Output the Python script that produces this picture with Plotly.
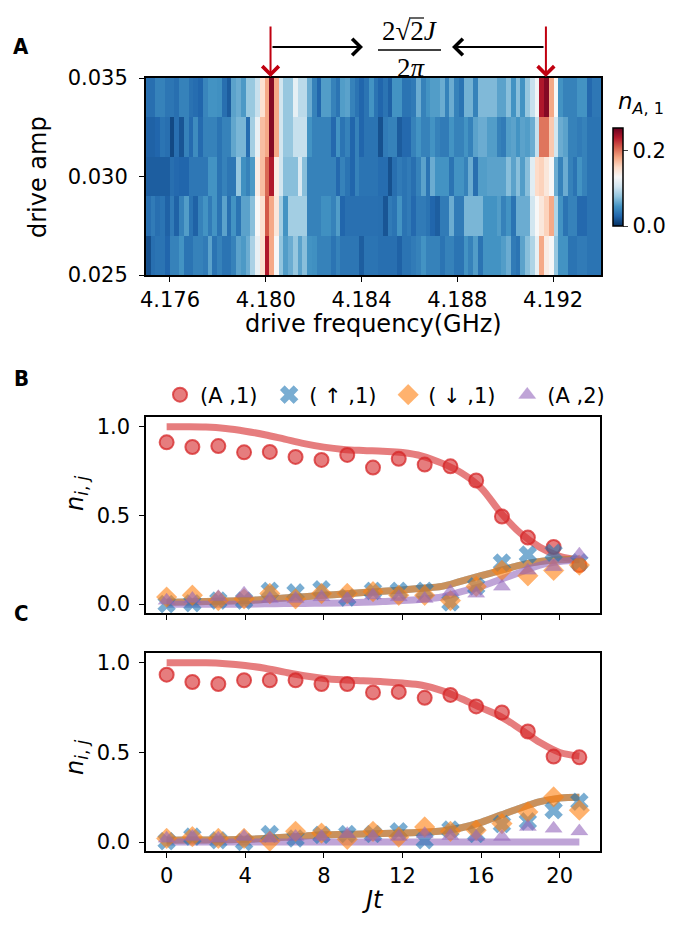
import plotly.graph_objects as go

# page body has an 8px margin: the figure is sized to fit inside the 691x925 window
OFF = 8
W, H = 691 - 2 * OFF, 925 - 2 * OFF
def px(x): return (x - OFF) / W
def py(y): return 1 - (y - OFF) / H

# ---------------- Panel A data: n_{A,1} vs drive frequency / amplitude ----------------
amp_centers = [0.026, 0.028, 0.030, 0.032, 0.034]
freq_first = 4.1751   # centre of first frequency column (GHz)
freq_step = 0.000198  # GHz per column

amp_034 = [0.031,0.031,0.042,0.042,0.035,0.035,0.031,0.042,0.042,0.033,0.030,0.026,0.044,0.052,0.052,0.050,0.031,0.021,0.060,0.065,0.055,0.081,0.081,
           0.100,
           0.150,0.180,0.250,0.180,0.105,0.080,0.080,0.118,0.095,0.095,0.065,0.042,0.026,0.057,0.057,0.042,0.034,0.057,0.060,0.042,0.034,0.026,0.034,0.052,0.034,
           0.026,0.034,0.024,0.052,0.052,0.034,0.034,0.038,0.065,0.042,0.052,0.057,0.057,0.065,0.042,0.065,0.042,0.034,0.068,0.068,0.042,0.072,0.072,0.072,0.072,
           0.060,0.060,0.075,0.052,0.075,0.052,0.080,0.100,0.125,0.235,0.250,0.180,0.130,0.052,0.042,0.042,0.042,0.052,0.052,0.028,0.036,0.036]
amp_032 = [0.024,0.024,0.026,0.034,0.031,0.012,0.032,0.018,0.042,0.029,0.048,0.029,0.042,0.042,0.042,0.034,0.042,0.042,0.062,0.070,0.070,0.030,0.085,
           0.120,
           0.170,0.180,0.250,0.180,0.105,0.080,0.080,0.100,0.100,0.100,0.052,0.042,0.042,0.042,0.042,0.028,0.052,0.034,0.042,0.026,0.042,0.026,0.034,0.034,0.034,
           0.016,0.038,0.042,0.042,0.021,0.028,0.028,0.042,0.052,0.042,0.042,0.052,0.042,0.038,0.038,0.052,0.042,0.042,0.052,0.042,0.060,0.065,0.065,0.057,0.057,
           0.042,0.038,0.057,0.060,0.052,0.060,0.057,0.065,0.100,0.200,0.200,0.165,0.105,0.065,0.060,0.042,0.042,0.038,0.042,0.034,0.034,0.034]
amp_030 = [0.022,0.022,0.022,0.022,0.022,0.031,0.028,0.026,0.026,0.036,0.036,0.036,0.036,0.052,0.052,0.034,0.042,0.035,0.035,0.080,0.050,0.042,0.055,
           0.140,0.170,0.205,0.235,0.140,0.105,0.075,0.075,0.075,0.110,0.075,0.042,0.042,0.042,0.042,0.042,0.042,0.028,0.042,0.034,0.026,0.042,0.034,0.034,0.034,0.034,
           0.030,0.030,0.016,0.031,0.038,0.034,0.038,0.031,0.042,0.060,0.034,0.065,0.052,0.052,0.052,0.034,0.052,0.052,0.042,0.065,0.031,0.057,0.057,0.060,0.060,
           0.060,0.060,0.075,0.060,0.075,0.057,0.075,0.115,0.155,0.160,0.145,0.130,0.065,0.042,0.065,0.042,0.034,0.052,0.042,0.034,0.034,0.034]
amp_028 = [0.031,0.038,0.031,0.034,0.024,0.038,0.024,0.042,0.057,0.034,0.024,0.042,0.052,0.038,0.052,0.034,0.060,0.031,0.052,0.034,0.060,0.060,0.075,
           0.130,0.150,0.210,0.180,0.145,0.085,0.052,0.085,0.085,0.085,0.085,0.042,0.042,0.042,0.050,0.050,0.042,0.057,0.026,0.032,0.032,0.032,0.032,0.032,0.032,0.032,
           0.031,0.018,0.038,0.034,0.052,0.034,0.038,0.028,0.038,0.038,0.034,0.026,0.022,0.038,0.038,0.065,0.038,0.038,0.070,0.070,0.070,0.070,0.052,0.052,0.052,
           0.057,0.042,0.052,0.034,0.065,0.065,0.065,0.105,0.130,0.145,0.160,0.180,0.090,0.052,0.034,0.042,0.042,0.028,0.028,0.034,0.034,0.034]
amp_026 = [0.015,0.031,0.034,0.034,0.026,0.042,0.042,0.052,0.034,0.034,0.042,0.042,0.038,0.060,0.034,0.042,0.034,0.034,0.042,0.060,0.055,0.065,0.088,
           0.120,0.150,0.235,0.180,0.130,0.078,0.057,0.065,0.080,0.060,0.075,0.052,0.050,0.042,0.042,0.042,0.034,0.042,0.035,0.035,0.035,0.035,0.022,0.034,0.034,0.034,
           0.031,0.031,0.031,0.031,0.024,0.034,0.034,0.038,0.042,0.052,0.042,0.042,0.042,0.034,0.042,0.042,0.034,0.034,0.052,0.042,0.057,0.034,0.052,0.052,0.052,
           0.052,0.057,0.065,0.038,0.034,0.060,0.075,0.090,0.120,0.180,0.140,0.130,0.080,0.052,0.052,0.034,0.034,0.038,0.038,0.034,0.034,0.034]
heat_z = [amp_026, amp_028, amp_030, amp_032, amp_034]

freq_ticks = [4.176, 4.180, 4.184, 4.188, 4.192]
freq_tick_text = ["4.176", "4.180", "4.184", "4.188", "4.192"]
amp_ticks = [0.025, 0.030, 0.035]
amp_tick_text = ["0.025", "0.030", "0.035"]
peak_freqs = [4.1802, 4.1917]

# ---------------- Panels B / C data ----------------
Jt_meas = [0, 1.31, 2.63, 3.94, 5.25, 6.56, 7.88, 9.19, 10.5, 11.81, 13.13, 14.44, 15.75, 17.06, 18.38, 19.69, 21.0]
Jt_theory = [0, 1, 2, 3, 4, 5, 6, 7, 8, 9, 10, 11, 12, 13, 14, 15, 16, 17, 18, 19, 20, 21]

B_A1 = [0.912, 0.886, 0.891, 0.856, 0.858, 0.830, 0.813, 0.841, 0.770, 0.819, 0.787, 0.777, 0.697, 0.494, 0.375, 0.322, 0.220]
B_up1 = [0.00, 0.005, 0.02, 0.02, 0.075, 0.066, 0.084, 0.037, 0.075, 0.075, 0.075, 0.01, 0.10, 0.234, 0.28, 0.29, 0.236]
B_dn1 = [0.04, 0.05, 0.02, 0.03, 0.06, 0.03, 0.06, 0.06, 0.07, 0.05, 0.05, 0.02, 0.10, 0.19, 0.16, 0.19, 0.22]
B_A2 = [0.02, 0.03, 0.04, 0.06, 0.03, 0.03, 0.04, 0.03, 0.05, 0.04, 0.03, 0.07, 0.06, 0.10, 0.19, 0.21, 0.28]

B_A1_th = [1.0, 1.0, 0.998, 0.99, 0.975, 0.955, 0.93, 0.905, 0.885, 0.872, 0.866, 0.862, 0.855, 0.835, 0.795, 0.74, 0.655, 0.515, 0.40, 0.32, 0.27, 0.25]
B_up1_th = [0.01, 0.012, 0.015, 0.017, 0.02, 0.027, 0.035, 0.042, 0.05, 0.057, 0.065, 0.072, 0.08, 0.09, 0.10, 0.13, 0.16, 0.19, 0.22, 0.24, 0.25, 0.255]
B_dn1_th = [0.01, 0.012, 0.015, 0.017, 0.02, 0.027, 0.035, 0.042, 0.05, 0.057, 0.065, 0.072, 0.08, 0.09, 0.10, 0.13, 0.16, 0.19, 0.22, 0.24, 0.25, 0.255]
B_A2_th = [0.0, 0.0, 0.0, 0.0, 0.0, 0.002, 0.003, 0.004, 0.005, 0.007, 0.01, 0.015, 0.02, 0.028, 0.04, 0.07, 0.10, 0.14, 0.18, 0.22, 0.24, 0.25]

C_A1 = [0.934, 0.893, 0.882, 0.903, 0.903, 0.903, 0.882, 0.882, 0.835, 0.838, 0.805, 0.821, 0.757, 0.723, 0.617, 0.477, 0.473]
C_up1 = [0.005, 0.03, 0.01, 0.0, 0.045, 0.02, 0.04, 0.045, 0.045, 0.06, 0.01, 0.07, 0.045, 0.10, 0.115, 0.178, 0.225]
C_dn1 = [0.02, 0.03, 0.02, 0.02, 0.005, 0.06, 0.05, 0.015, 0.06, 0.028, 0.084, 0.06, 0.066, 0.103, 0.168, 0.252, 0.178]
C_A2 = [0.02, 0.03, 0.02, 0.03, 0.02, 0.03, 0.03, 0.045, 0.03, 0.03, 0.045, 0.035, 0.03, 0.03, 0.085, 0.075, 0.06]

C_A1_th = [1.0, 1.0, 1.0, 0.995, 0.985, 0.97, 0.948, 0.928, 0.913, 0.905, 0.90, 0.895, 0.887, 0.875, 0.845, 0.80, 0.75, 0.70, 0.63, 0.555, 0.50, 0.48]
C_up1_th = [0.01, 0.011, 0.012, 0.013, 0.015, 0.02, 0.027, 0.033, 0.04, 0.043, 0.045, 0.048, 0.05, 0.055, 0.062, 0.08, 0.11, 0.15, 0.19, 0.225, 0.245, 0.25]
C_dn1_th = [0.01, 0.011, 0.012, 0.013, 0.015, 0.02, 0.027, 0.033, 0.04, 0.043, 0.045, 0.048, 0.05, 0.055, 0.062, 0.08, 0.11, 0.15, 0.19, 0.225, 0.245, 0.25]
C_A2_th = [0.0] * 22

series_names = ["(A ,1)", "( \u2191 ,1)", "( \u2193 ,1)", "(A ,2)"]

# ---------------- styles ----------------
FONT = "DejaVu Sans"
RED, BLUE, ORANGE, PURPLE = (214, 39, 40), (31, 119, 180), (255, 127, 14), (148, 103, 189)
def rgba(c, a): return f"rgba({c[0]},{c[1]},{c[2]},{a})"

rdbu_r = [[0.0, "#053061"], [0.1, "#2166ac"], [0.2, "#4393c3"], [0.3, "#92c5de"],
          [0.4, "#d1e5f0"], [0.5, "#f7f7f7"], [0.6, "#fddbc7"], [0.7, "#f4a582"],
          [0.8, "#d6604d"], [0.9, "#b2182b"], [1.0, "#67001f"]]

fig = go.Figure()

fig.add_trace(go.Heatmap(
    z=heat_z, x0=freq_first, dx=freq_step, y=amp_centers,
    colorscale=rdbu_r, zmin=0, zmax=0.26, xaxis="x", yaxis="y",
    colorbar=dict(x=px(613), xanchor="left", y=py(177), yanchor="middle", xpad=0, ypad=0,
                  len=98 / H, lenmode="fraction", thickness=10, thicknessmode="pixels",
                  outlinewidth=1.5, outlinecolor="black",
                  tickvals=[0, 0.2], ticktext=["0.0", "0.2"], ticks="outside", ticklen=5,
                  tickwidth=1.2, tickfont=dict(family=FONT, size=21, color="black")),
))

markers = [("circle", RED, 14), ("x", BLUE, 16), ("diamond", ORANGE, 16), ("triangle-up", PURPLE, 15)]
legend_pad = ["\u00a0", "\u00a0", "\u00a0", ""]

def add_panel(xa, ya, meas, theory, show_legend):
    for th, (sym, col, sz) in zip(theory, markers):
        fig.add_trace(go.Scatter(x=Jt_theory, y=th, mode="lines", line=dict(color=rgba(col, 0.6), width=7, shape="spline"),
                                 xaxis=xa, yaxis=ya, showlegend=False, hoverinfo="skip"))
    for name, pad, ms, (sym, col, sz) in zip(series_names, legend_pad, meas, markers):
        fig.add_trace(go.Scatter(x=Jt_meas, y=ms, mode="markers", name=name + pad,
                                 marker=dict(symbol=sym, size=sz, color=rgba(col, 0.6),
                                             line=dict(color=rgba(col, 0.75 if sym == "circle" else 0.3),
                                                       width=2 if sym == "circle" else 0.5)),
                                 xaxis=xa, yaxis=ya, showlegend=show_legend))

add_panel("x2", "y2", [B_A1, B_up1, B_dn1, B_A2], [B_A1_th, B_up1_th, B_dn1_th, B_A2_th], True)
add_panel("x3", "y3", [C_A1, C_up1, C_dn1, C_A2], [C_A1_th, C_up1_th, C_dn1_th, C_A2_th], False)

def axis_common(lw=1.5, **extra):
    d = dict(showline=True, mirror=True, linecolor="black", linewidth=lw, ticks="outside",
             ticklen=5, tickwidth=1.3, tickcolor="black", showgrid=False, zeroline=False,
             automargin=False, tickfont=dict(family=FONT, size=21, color="black"))
    d.update(extra)
    return d

Jt_ticks = [0, 4, 8, 12, 16, 20]
n_ticks = [0.0, 0.5, 1.0]
n_tick_text = ["0.0", "0.5", "1.0"]

fig.update_layout(
    width=W, height=H, margin=dict(l=0, r=0, t=0, b=0),
    paper_bgcolor="white", plot_bgcolor="white",
    font=dict(family=FONT, color="black"),
    xaxis=dict(domain=[px(146), px(601)], range=[4.175, 4.194], anchor="y",
               tickvals=freq_ticks, ticktext=freq_tick_text, **axis_common(2)),
    yaxis=dict(domain=[py(275), py(78)], range=[0.025, 0.035], anchor="x",
               tickvals=amp_ticks, ticktext=amp_tick_text, **axis_common(2, ticklabelstandoff=7)),
    xaxis2=dict(domain=[px(146), px(600)], range=[-1.05, 22.05], anchor="y2",
                tickvals=Jt_ticks, showticklabels=False, **axis_common()),
    yaxis2=dict(domain=[py(613), py(417)], range=[-0.05, 1.055], anchor="x2",
                tickvals=n_ticks, ticktext=n_tick_text, **axis_common(ticklabelstandoff=5)),
    xaxis3=dict(domain=[px(146), px(600)], range=[-1.05, 22.05], anchor="y3",
                tickvals=Jt_ticks, ticktext=[str(t) for t in Jt_ticks], **axis_common()),
    yaxis3=dict(domain=[py(851), py(653)], range=[-0.05, 1.055], anchor="x3",
                tickvals=n_ticks, ticktext=n_tick_text, **axis_common(ticklabelstandoff=5)),
    legend=dict(orientation="h", x=px(160), xanchor="left", y=py(395), yanchor="middle",
                font=dict(family=FONT, size=21, color="black"), bgcolor="rgba(0,0,0,0)",
                itemwidth=30, tracegroupgap=0),
)

def text(x, y, s, size, **kw):
    fig.add_annotation(x=px(x), y=py(y), xref="paper", yref="paper", text=s, showarrow=False,
                       font=dict(family=kw.pop("family", FONT), size=size, color="black"),
                       xanchor=kw.pop("xanchor", "center"), yanchor=kw.pop("yanchor", "middle"), **kw)

# axis titles
text(373, 324, "drive frequency(GHz)", 24)
text(38, 177, "drive amp", 24, textangle=-90)
text(76, 493, "<i>n</i><sub><i>i</i>, <i>j</i></sub>", 24, textangle=-90)
text(76, 757, "<i>n</i><sub><i>i</i>, <i>j</i></sub>", 24, textangle=-90)
text(373, 900, "<i>Jt</i>", 24)
text(641, 103, "<i>n</i><sub><i>A</i>, 1</sub>", 23)

# panel letters
for lab, yy in (("A", 47), ("B", 378), ("C", 613)):
    text(21, yy, f"<b>{lab}</b>", 22, family="DejaVu Sans Condensed, DejaVu Sans")

# red arrows marking the two peaks
for fx in peak_freqs:
    fig.add_annotation(x=fx, y=py(77), xref="x", yref="paper", ax=0, ay=-52, axref="pixel", ayref="pixel",
                       showarrow=True, arrowhead=4, arrowsize=1.6, arrowwidth=2, arrowcolor="#c00010", text="")
# black arrows
fig.add_annotation(x=px(363), y=py(47), xref="paper", yref="paper", ax=-92, ay=0,
                   showarrow=True, arrowhead=4, arrowsize=1.6, arrowwidth=2, arrowcolor="black", text="")
fig.add_annotation(x=px(452), y=py(47), xref="paper", yref="paper", ax=93, ay=0,
                   showarrow=True, arrowhead=4, arrowsize=1.6, arrowwidth=2, arrowcolor="black", text="")
# fraction 2*sqrt(2)J / 2pi
SERIF = "Liberation Serif, DejaVu Serif"
text(410, 31, "2\u221a2<i>J</i>", 27, family=SERIF)
text(411, 68, "2<i>\u03c0</i>", 27, family=SERIF)
fig.add_shape(type="line", xref="paper", yref="paper", x0=px(378), x1=px(441), y0=py(50), y1=py(50),
              line=dict(color="black", width=1.5))
# vinculum of the square root
fig.add_shape(type="line", xref="paper", yref="paper", x0=px(409), x1=px(424), y0=py(18), y1=py(18),
              line=dict(color="black", width=1.2))

fig.write_html("out.html")
